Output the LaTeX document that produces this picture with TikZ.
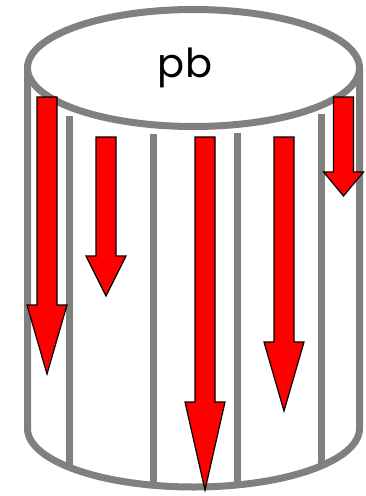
\documentclass[tikz,border=0pt]{standalone}
\usepackage{fontspec}
\setmainfont{Poppins}
\begin{document}
\begin{tikzpicture}[x=1pt,y=-1pt,
  wall/.style={draw=gray!50!black!0!gray, line width=7pt},
  stripe/.style={draw=gray, line width=7pt},
  blockarrow/.style={draw=black, fill=red, line width=1.2pt, line join=miter}]
\useasboundingbox (0,0) rectangle (366,496);
\def\cx{193.5}
% stripes
\foreach \x in {69,153,237,321}{
  \pgfmathsetmacro{\yt}{68+58.5*sqrt(1-((\x-\cx)/166)^2)+9}
  \pgfmathsetmacro{\yb}{428.5+58.5*sqrt(1-((\x-\cx)/166)^2)}
  \draw[stripe] (\x,\yt) -- (\x,\yb);
}
% walls and bottom
\draw[stripe] (27.5,68) -- (27.5,428.5) arc[start angle=180, end angle=360, x radius=166, y radius=-58.5] -- (359.5,68);
% top ellipse
\draw[stripe, fill=white] (\cx,68) ellipse[x radius=166, y radius=58.5];
\node[anchor=base, font=\fontsize{40}{40}\selectfont, inner sep=0pt] (lbl) at (185,77) {pb};
% arrows: center x, top y, head base y, tip y
\foreach \ax/\at/\ah/\ap in {47/97/305/374, 106/137/256/296, 205/137/402/490, 284/137/342/411, 343.5/97/172/196}{
  \draw[blockarrow] (\ax-10,\at) -- (\ax+10,\at) -- (\ax+10,\ah) -- (\ax+20,\ah) -- (\ax,\ap) -- (\ax-20,\ah) -- (\ax-10,\ah) -- cycle;
}
\end{tikzpicture}
\end{document}
